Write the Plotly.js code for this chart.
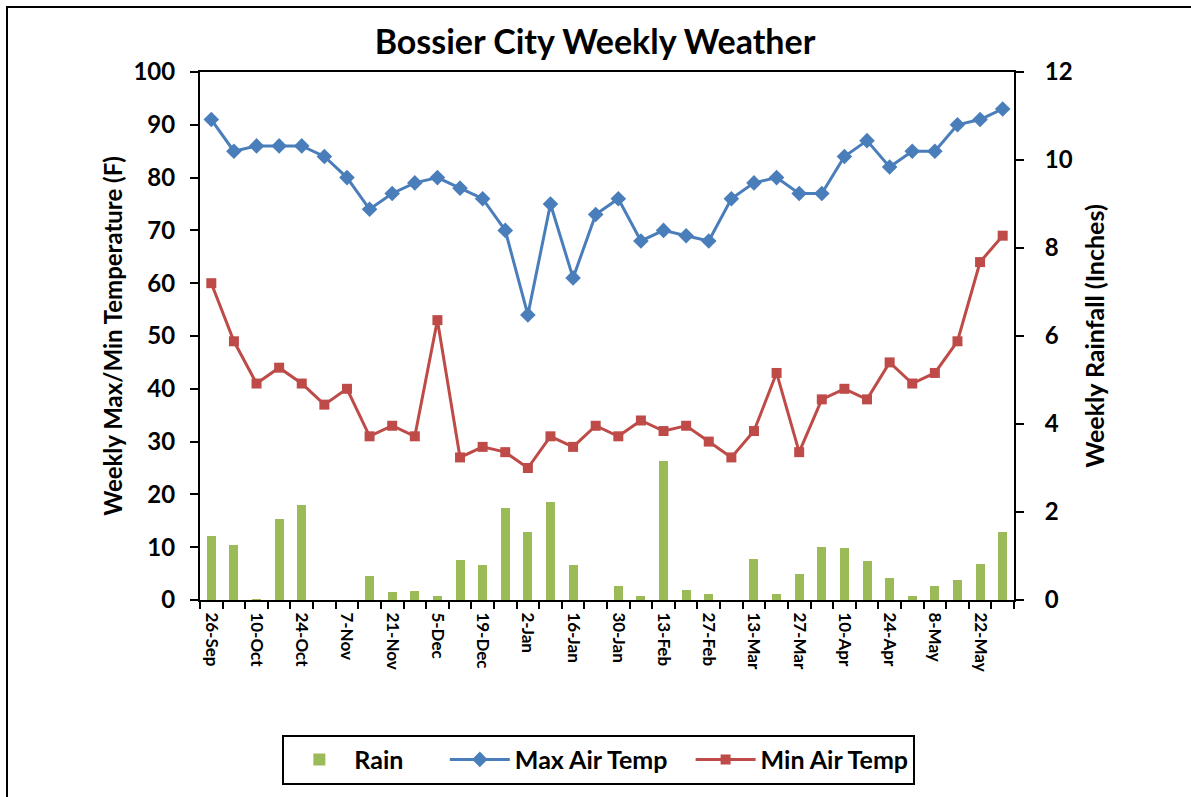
<!DOCTYPE html>
<html>
<head>
<meta charset="utf-8">
<script src="https://cdn.plot.ly/plotly-3.0.1.min.js"></script>
<style>
  html, body { margin: 0; padding: 0; background: #fff; }
  #wrap { position: relative; width: 1191px; height: 797px; }
  #frame { position: absolute; left: 6px; top: 6px; width: 1185px; height: 791px;
           border-left: 2px solid #000; border-top: 2px solid #000; box-sizing: border-box; pointer-events: none; }
  #chart { position: absolute; left: 0; top: 0; width: 1191px; height: 797px; }
</style>
</head>
<body>
<div id="wrap">
  <div id="chart"></div>
  <div id="frame"></div>
</div>
<script>
// Weekly data, 26-Sep through 29-May
const weeks = ["26-Sep","3-Oct","10-Oct","17-Oct","24-Oct","31-Oct","7-Nov","14-Nov","21-Nov","28-Nov",
  "5-Dec","12-Dec","19-Dec","26-Dec","2-Jan","9-Jan","16-Jan","23-Jan","30-Jan","6-Feb",
  "13-Feb","20-Feb","27-Feb","6-Mar","13-Mar","20-Mar","27-Mar","3-Apr","10-Apr","17-Apr",
  "24-Apr","1-May","8-May","15-May","22-May","29-May"];

const maxAirTemp = [91,85,86,86,86,84,80,74,77,79,
  80,78,76,70,54,75,61,73,76,68,
  70,69,68,76,79,80,77,77,84,87,
  82,85,85,90,91,93];

const minAirTemp = [60,49,41,44,41,37,40,31,33,31,
  53,27,29,28,25,31,29,33,31,34,
  32,33,30,27,32,43,28,38,40,38,
  45,41,43,49,64,69];

const rainInches = [1.45,1.25,0.03,1.85,2.15,0,0,0.54,0.19,0.21,
  0.08,0.91,0.79,2.10,1.55,2.23,0.79,0,0.32,0.09,
  3.17,0.23,0.13,0,0.93,0.14,0.59,1.21,1.18,0.89,
  0.50,0.09,0.32,0.45,0.81,1.55];

// Tick labels shown every other week
const tickLabels = weeks.filter((w, i) => i % 2 === 0);

const xIdx = weeks.map((w, i) => i);
const tickIdx = weeks.map((w, i) => i).filter(i => i % 2 === 0);

const FONT = "Lato, 'Open Sans', sans-serif";
const PAD6 = "&nbsp;&nbsp;&nbsp;&nbsp;&nbsp;&nbsp;";
const PAD3 = "&nbsp;&nbsp;&nbsp;";

const traces = [
  {
    type: "bar", name: "Rain" + PAD6, x: xIdx, y: rainInches, yaxis: "y2",
    marker: { color: "#9BBB59" }, width: 0.4,
    hovertext: weeks, hoverinfo: "text+y"
  },
  {
    type: "scatter", mode: "lines+markers", name: "Max Air Temp" + PAD3, x: xIdx, y: maxAirTemp,
    line: { color: "#4A7EBB", width: 3 },
    marker: { symbol: "diamond", size: 12, color: "#4A7EBB" }
  },
  {
    type: "scatter", mode: "lines+markers", name: "Min Air Temp", x: xIdx, y: minAirTemp,
    line: { color: "#BE4B48", width: 3 },
    marker: { symbol: "square", size: 10, color: "#BE4B48" }
  },
  // invisible trace to anchor label axis
  {
    type: "scatter", mode: "markers", x: [tickIdx[0]], y: [0], xaxis: "x2", yaxis: "y",
    marker: { opacity: 0 }, showlegend: false, hoverinfo: "skip"
  }
];

const n = weeks.length;
const layout = {
  width: 1191, height: 797,
  paper_bgcolor: "rgba(0,0,0,0)", plot_bgcolor: "rgba(0,0,0,0)",
  margin: { l: 200, r: 177, t: 72, b: 195 },
  font: { family: FONT, color: "#000" },
  title: {
    text: "<b>Bossier City Weekly Weather</b>",
    font: { family: FONT, size: 34, color: "#000" },
    x: 595 / 1191, xanchor: "center", xref: "container", y: 1 - 42 / 797, yanchor: "middle"
  },
  showlegend: true,
  legend: {
    orientation: "h", x: 0.49, xanchor: "center", y: -0.255, yanchor: "top",
    bordercolor: "#000", borderwidth: 2, bgcolor: "#fff",
    font: { family: FONT, size: 25, color: "#000", weight: "bold" },
    itemwidth: 60, tracegroupgap: 0
  },
  bargap: 0,
  xaxis: {
    type: "linear", range: [-0.5, n - 0.5],
    tick0: -0.5, dtick: 1, ticks: "outside", ticklen: 7, tickwidth: 2, tickcolor: "#000",
    showticklabels: false, showgrid: false, zeroline: false,
    showline: true, linecolor: "#000", linewidth: 2, mirror: true
  },
  xaxis2: {
    type: "linear", overlaying: "x", side: "bottom", anchor: "y",
    range: [-0.5, n - 0.5], tickmode: "array", tickvals: tickIdx, ticktext: tickLabels,
    tickangle: 90, ticks: "outside", ticklen: 8, tickcolor: "rgba(0,0,0,0)",
    showgrid: false, zeroline: false, showline: false,
    tickfont: { family: FONT, size: 17, color: "#000", weight: "bold" }
  },
  yaxis: {
    range: [0, 100], dtick: 10, ticks: "outside", ticklen: 8, tickwidth: 2, tickcolor: "#000",
    ticklabelstandoff: 10,
    showgrid: false, zeroline: false, showline: true, linecolor: "#000", linewidth: 2,
    tickfont: { family: FONT, size: 24, color: "#000", weight: "bold" },
    title: { text: "<b>Weekly Max/Min Temperature (F)</b>", font: { family: FONT, size: 24, color: "#000" }, standoff: 4 }
  },
  yaxis2: {
    range: [0, 12], dtick: 2, overlaying: "y", side: "right",
    ticks: "outside", ticklen: 8, tickwidth: 2, tickcolor: "#000",
    ticklabelstandoff: 16,
    showgrid: false, zeroline: false, showline: true, linecolor: "#000", linewidth: 2,
    tickfont: { family: FONT, size: 24, color: "#000", weight: "bold" },
    title: { text: "<b>Weekly Rainfall (Inches)</b>", font: { family: FONT, size: 25, color: "#000" }, standoff: 15 }
  }
};

Plotly.newPlot("chart", traces, layout, { displayModeBar: false, staticPlot: true });
</script>
</body>
</html>
